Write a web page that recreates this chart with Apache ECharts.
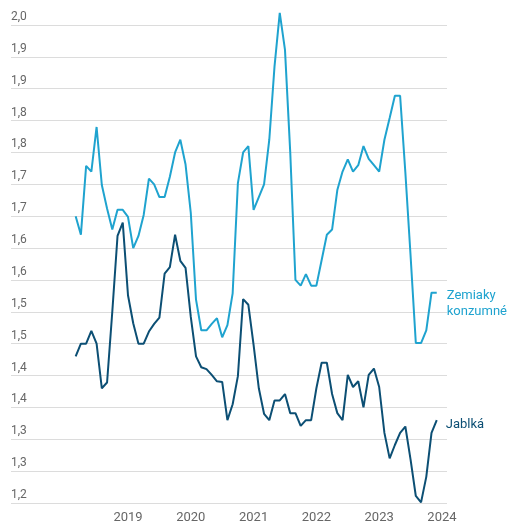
<!DOCTYPE html>
<html>
<head>
<meta charset="utf-8">
<script src="https://cdn.jsdelivr.net/npm/echarts@6/dist/echarts.min.js"></script>
<style>
  html, body { margin: 0; padding: 0; background: #fff; }
  #chart { width: 510px; height: 524px; }
</style>
</head>
<body>
<div id="chart"></div>
<script>
// Monthly observations, March 2018 – December 2023
const months = [
  '2018-03','2018-04','2018-05','2018-06','2018-07','2018-08','2018-09','2018-10','2018-11','2018-12',
  '2019-01','2019-02','2019-03','2019-04','2019-05','2019-06','2019-07','2019-08','2019-09','2019-10','2019-11','2019-12',
  '2020-01','2020-02','2020-03','2020-04','2020-05','2020-06','2020-07','2020-08','2020-09','2020-10','2020-11','2020-12',
  '2021-01','2021-02','2021-03','2021-04','2021-05','2021-06','2021-07','2021-08','2021-09','2021-10','2021-11','2021-12',
  '2022-01','2022-02','2022-03','2022-04','2022-05','2022-06','2022-07','2022-08','2022-09','2022-10','2022-11','2022-12',
  '2023-01','2023-02','2023-03','2023-04','2023-05','2023-06','2023-07','2023-08','2023-09','2023-10','2023-11','2023-12'
];

const zemiaky = [
  1.700, 1.671, 1.779, 1.770, 1.840, 1.749, 1.712, 1.679, 1.710, 1.710,
  1.699, 1.650, 1.669, 1.702, 1.759, 1.750, 1.730, 1.730, 1.762, 1.800, 1.820, 1.781,
  1.705, 1.569, 1.521, 1.521, 1.531, 1.540, 1.510, 1.529, 1.579, 1.752, 1.800, 1.810,
  1.710, 1.730, 1.750, 1.820, 1.935, 2.019, 1.961, 1.801, 1.600, 1.591, 1.609, 1.591,
  1.591, 1.631, 1.671, 1.679, 1.741, 1.770, 1.789, 1.770, 1.780, 1.810, 1.790, 1.780,
  1.770, 1.820, 1.854, 1.889, 1.889, 1.769, 1.638, 1.501, 1.501, 1.521, 1.580, 1.580
];

const jablka = [
  1.480, 1.500, 1.500, 1.520, 1.500, 1.430, 1.439, 1.550, 1.669, 1.690,
  1.576, 1.532, 1.500, 1.500, 1.519, 1.531, 1.541, 1.610, 1.620, 1.671, 1.630, 1.619,
  1.542, 1.480, 1.463, 1.460, 1.451, 1.441, 1.440, 1.380, 1.405, 1.449, 1.570, 1.561,
  1.498, 1.430, 1.390, 1.380, 1.411, 1.411, 1.421, 1.391, 1.391, 1.371, 1.380, 1.380,
  1.430, 1.470, 1.470, 1.421, 1.391, 1.380, 1.451, 1.432, 1.441, 1.400, 1.451, 1.461,
  1.432, 1.360, 1.320, 1.341, 1.360, 1.370, 1.318, 1.261, 1.251, 1.291, 1.360, 1.380
];

const yearTicks = [2019, 2020, 2021, 2022, 2023, 2024];

const seriesNames = { zemiaky: 'Zemiaky\nkonzumné', jablka: 'Jablká' };
const colors = { zemiaky: '#1fa3cf', jablka: '#0c4f74' };

// month string -> fractional year on the x scale
function toYear(m) {
  const [y, mo] = m.split('-').map(Number);
  return y + (mo - 1) / 12;
}
const pairs = (vals) => months.map((m, i) => [toYear(m), vals[i]]);

const chart = echarts.init(document.getElementById('chart'), null, { renderer: 'canvas' });

const fontFamily = 'Roboto, "Noto Sans", sans-serif';

chart.setOption({
  animation: false,
  backgroundColor: '#ffffff',
  grid: { left: 11, right: 63, top: 25, bottom: 21, containLabel: false },
  xAxis: {
    type: 'value',
    min: 2017.137,
    max: 2024.08,
    axisLine: { show: false },
    axisTick: { show: false },
    splitLine: { show: false },
    axisLabel: {
      customValues: yearTicks,
      formatter: (v) => String(Math.round(v)),
      color: '#666',
      fontSize: 13,
      fontFamily,
      margin: 8
    }
  },
  yAxis: {
    type: 'value',
    min: 1.25,
    max: 2.0,
    interval: 0.05,
    axisLine: { show: false },
    axisTick: { show: false },
    splitLine: { show: true, lineStyle: { color: '#dcdcdc', width: 1 } },
    axisLabel: {
      inside: true,
      margin: 0,
      verticalAlign: 'bottom',
      align: 'left',
      padding: [0, 0, 2, 0],
      color: '#666',
      fontSize: 12,
      fontFamily,
      formatter: (v) => (Math.floor(v * 10 + 1e-6) / 10).toFixed(1).replace('.', ',')
    }
  },
  series: [
    {
      name: seriesNames.zemiaky,
      type: 'line',
      data: pairs(zemiaky),
      showSymbol: false,
      clip: false,
      lineStyle: { color: colors.zemiaky, width: 2 },
      itemStyle: { color: colors.zemiaky },
      endLabel: {
        show: true,
        formatter: seriesNames.zemiaky,
        color: colors.zemiaky,
        fontSize: 13,
        lineHeight: 16,
        fontFamily,
        distance: 10,
        offset: [0, 11]
      }
    },
    {
      name: seriesNames.jablka,
      type: 'line',
      data: pairs(jablka),
      showSymbol: false,
      clip: false,
      lineStyle: { color: colors.jablka, width: 2 },
      itemStyle: { color: colors.jablka },
      endLabel: {
        show: true,
        formatter: seriesNames.jablka,
        color: colors.jablka,
        fontSize: 13,
        lineHeight: 16,
        fontFamily,
        distance: 9,
        offset: [0, 5]
      }
    }
  ]
});
</script>
</body>
</html>
